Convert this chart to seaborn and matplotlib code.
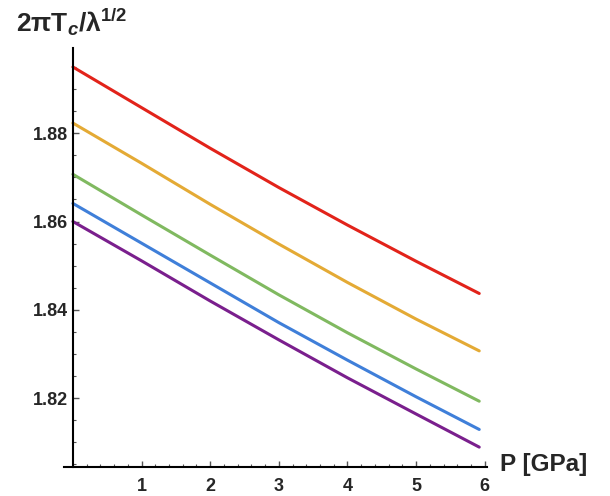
import numpy as np
import pandas as pd
import matplotlib
matplotlib.use("Agg")
import matplotlib.pyplot as plt
from matplotlib.ticker import MultipleLocator
import seaborn as sns

# values
pressure = [0, 1, 2, 3, 4, 5, 5.92]
red = [1.8950, 1.8858, 1.8766, 1.8677, 1.8592, 1.8510, 1.8437]
orange = [1.8823, 1.8732, 1.8639, 1.8549, 1.8462, 1.8379, 1.8307]
green = [1.8707, 1.8615, 1.8524, 1.8434, 1.8348, 1.8266, 1.8193]
blue = [1.8641, 1.8551, 1.8461, 1.8371, 1.8286, 1.8203, 1.8129]
purple = [1.8600, 1.8511, 1.8420, 1.8332, 1.8246, 1.8164, 1.8089]

names = ["red", "orange", "green", "blue", "purple"]
colors = ["#E2231A", "#E4AA35", "#80B960", "#3F7FD9", "#7A1F8D"]

rows = []
for name, vals in zip(names, [red, orange, green, blue, purple]):
    for p, v in zip(pressure, vals):
        rows.append({"P": p, "val": v, "curve": name})
df = pd.DataFrame(rows)

sns.set_style("ticks")
plt.rcParams['font.family'] = ['Liberation Sans', 'DejaVu Sans']
plt.rcParams['font.weight'] = 'bold'
plt.rcParams['mathtext.fontset'] = 'custom'
plt.rcParams['mathtext.rm'] = 'Liberation Sans:bold'
plt.rcParams['mathtext.it'] = 'Liberation Sans:bold:italic'
plt.rcParams['mathtext.bf'] = 'Liberation Sans:bold'

fig = plt.figure(figsize=(6.1, 4.96), dpi=100)
ax = fig.add_axes([0.1049, 0.0585, 0.798 - 0.1049, 0.9032 - 0.0585])

sns.lineplot(data=df, x="P", y="val", hue="curve", palette=dict(zip(names, colors)),
             linewidth=2.2, legend=False, ax=ax)

ax.set_xlim(-0.13, 6.03)
ax.set_ylim(1.8044, 1.8993)
ax.spines['left'].set_position(('data', 0))
ax.spines['right'].set_visible(False)
ax.spines['top'].set_visible(False)
for s in ['left', 'bottom']:
    ax.spines[s].set_linewidth(1.5)
    ax.spines[s].set_color('black')

ax.xaxis.set_major_locator(MultipleLocator(1))
ax.xaxis.set_minor_locator(MultipleLocator(0.2))
ax.yaxis.set_major_locator(MultipleLocator(0.02))
ax.yaxis.set_minor_locator(MultipleLocator(0.005))
ax.set_xticks([1, 2, 3, 4, 5, 6])
ax.set_xticklabels(["1", "2", "3", "4", "5", "6"])
ax.set_yticks([1.82, 1.84, 1.86, 1.88])
ax.set_yticklabels(["1.82", "1.84", "1.86", "1.88"])

ax.tick_params(axis='x', which='major', direction='in', length=4.5, width=1.0,
               color='#555555', labelsize=13, pad=8)
ax.tick_params(axis='x', which='minor', direction='in', length=2.5, width=0.8, color='#555555')
ax.tick_params(axis='y', which='major', direction='in', length=4.5, width=1.0,
               color='#555555', labelsize=13, pad=3.5)
ax.tick_params(axis='y', which='minor', direction='in', length=2.5, width=0.8, color='#555555')
for lab in ax.get_xticklabels() + ax.get_yticklabels():
    lab.set_fontweight('bold')

ax.set_xlabel("")
ax.set_ylabel("")
fig.text(0.82, 0.0625, "P [GPa]", fontsize=17.5, fontweight='bold', va='center', ha='left')
fig.text(0.027, 0.9355, r"$\mathrm{2\pi T}_{c}\mathrm{/\lambda}^{\mathrm{1/2}}$",
         fontsize=19, va='baseline', ha='left')

fig.savefig("out.png", dpi=100)
